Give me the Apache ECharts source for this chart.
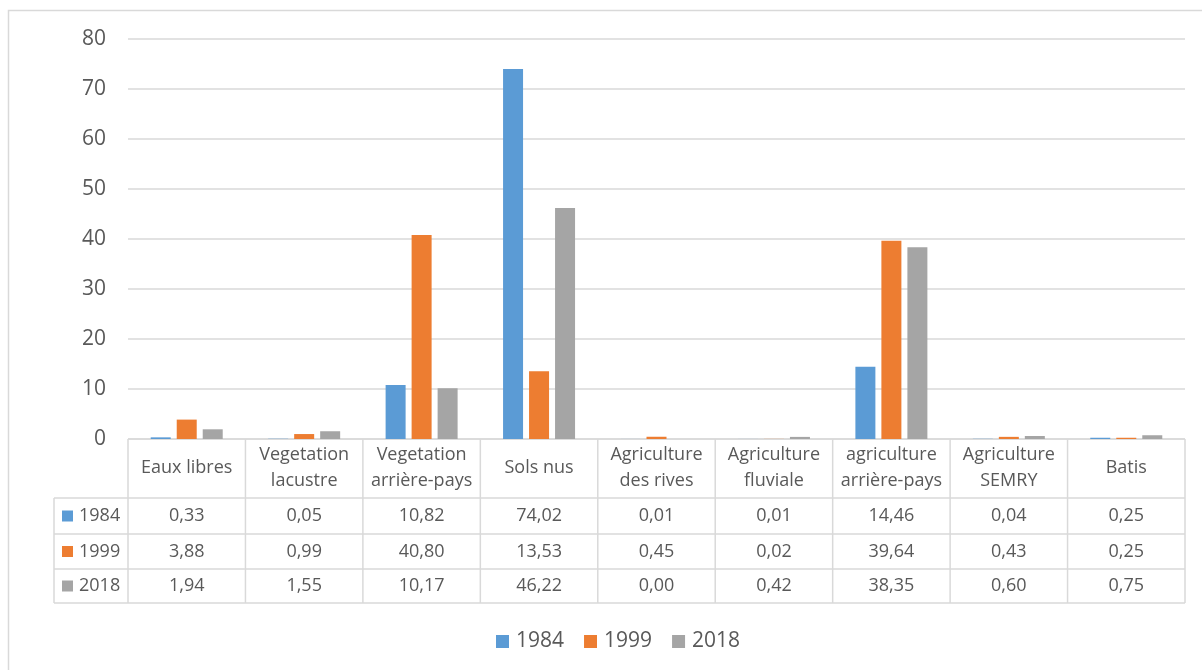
<!DOCTYPE html>
<html>
<head>
<meta charset="utf-8">
<script src="https://cdn.jsdelivr.net/npm/echarts@6/dist/echarts.min.js"></script>
<style>
  html, body { margin: 0; padding: 0; background: #fff; }
  #chart { width: 1202px; height: 670px; }
</style>
</head>
<body>
<div id="chart"></div>
<script>
// occupation du sol (%)
const categories = ['Eaux libres', 'Vegetation\nlacustre', 'Vegetation\narrière-pays', 'Sols nus',
  'Agriculture\ndes rives', 'Agriculture\nfluviale', 'agriculture\narrière-pays', 'Agriculture\nSEMRY', 'Batis'];
const years = ['1984', '1999', '2018'];
const v1984 = [0.33, 0.05, 10.82, 74.02, 0.01, 0.01, 14.46, 0.04, 0.25];
const v1999 = [3.88, 0.99, 40.80, 13.53, 0.45, 0.02, 39.64, 0.43, 0.25];
const v2018 = [1.94, 1.55, 10.17, 46.22, 0.00, 0.42, 38.35, 0.60, 0.75];
const colors = ['#5B9BD5', '#ED7D31', '#A5A5A5'];

const FONT = '"Open Sans", sans-serif';
const TXT = '#595959';
const LINE = '#d9d9d9';

// plot / table geometry
const gl = 128, gr = 1185, gt = 39, gb = 439;
const rowLines = [498, 534, 569, 603];
const rowMid = [516, 551.5, 586];
const colW = (gr - gl) / categories.length;

const fmt = v => v.toFixed(2).replace('.', ',');
const values = [v1984, v1999, v2018];

const chart = echarts.init(document.getElementById('chart'));

// table lines
const gfx = [];
const hl = (x1, x2, y) => gfx.push({ type: 'line', silent: true,
  shape: { x1: x1, y1: y, x2: x2, y2: y }, style: { stroke: LINE, lineWidth: 1.5 } });
const vl = (x, y1, y2) => gfx.push({ type: 'line', silent: true,
  shape: { x1: x, y1: y1, x2: x, y2: y2 }, style: { stroke: LINE, lineWidth: 1.5 } });
hl(gl, gr, gb);
rowLines.forEach(y => hl(54, gr, y));
vl(54, rowLines[0], rowLines[3]);
for (let i = 0; i <= categories.length; i++) vl(gl + i * colW, gb, rowLines[3]);

// row keys of the data table
years.forEach((y, k) => {
  gfx.push({ type: 'rect', silent: true, shape: { x: 62, y: rowMid[k] - 5.5, width: 11, height: 11 },
    style: { fill: colors[k] } });
  gfx.push({ type: 'text', silent: true, x: 79, y: rowMid[k],
    style: { text: y, fill: TXT, font: '18px ' + FONT, verticalAlign: 'middle' } });
});

// outer border
gfx.push({ type: 'rect', silent: true, shape: { x: 8.5, y: 10.5, width: 1210, height: 680 },
  style: { fill: 'none', stroke: LINE, lineWidth: 1.5 } });

const valueAxes = values.map((arr, k) => ({
  type: 'category',
  data: categories,
  position: 'bottom',
  axisLine: { show: false },
  axisTick: { show: false },
  axisLabel: {
    interval: 0,
    margin: rowMid[k] - gb,
    verticalAlign: 'middle',
    color: TXT,
    fontSize: 18,
    fontFamily: FONT,
    formatter: (v, i) => fmt(arr[i])
  }
}));

chart.setOption({
  animation: false,
  grid: { left: gl, right: 1202 - gr, top: gt, bottom: 670 - gb, containLabel: false },
  legend: {
    data: years,
    top: 626,
    left: 491,
    itemWidth: 13,
    itemHeight: 13,
    itemGap: 20,
    icon: 'rect',
    textStyle: { color: TXT, fontSize: 21, fontFamily: FONT, padding: [0, 0, 0, 2] }
  },
  xAxis: [{
    type: 'category',
    data: categories,
    axisLine: { show: false },
    axisTick: { show: false },
    axisLabel: {
      interval: 0,
      margin: 29,
      verticalAlign: 'middle',
      color: TXT,
      fontSize: 18,
      lineHeight: 26,
      fontFamily: FONT
    }
  }].concat(valueAxes),
  yAxis: {
    type: 'value',
    min: 0,
    max: 80,
    interval: 10,
    axisLine: { show: false },
    axisTick: { show: false },
    axisLabel: { color: TXT, fontSize: 21, fontFamily: FONT, margin: 22 },
    splitLine: { lineStyle: { color: LINE, width: 1.5 } }
  },
  series: years.map((y, k) => ({
    name: y,
    type: 'bar',
    data: values[k],
    barWidth: 20,
    barGap: '30%',
    itemStyle: { color: colors[k] }
  })),
  graphic: gfx
});
</script>
</body>
</html>
